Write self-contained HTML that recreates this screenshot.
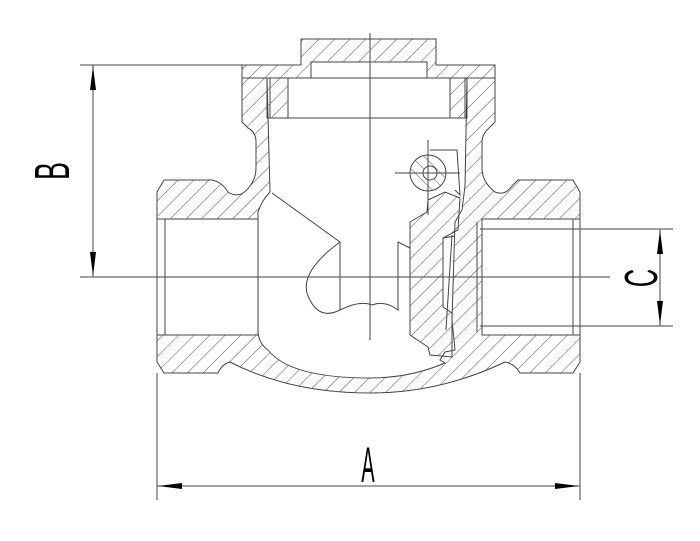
<!DOCTYPE html>
<html><head><meta charset="utf-8"><style>html,body{margin:0;padding:0;background:#fff}svg{display:block}</style></head>
<body>
<svg width="700" height="541" viewBox="0 0 700 541" xmlns="http://www.w3.org/2000/svg">
<defs>
<pattern id="h" patternUnits="userSpaceOnUse" width="11" height="11" patternTransform="rotate(45)">
<line x1="0" y1="0" x2="0" y2="11" stroke="#555" stroke-width="1"/>
</pattern>
<pattern id="h2" patternUnits="userSpaceOnUse" width="9" height="9" patternTransform="rotate(-45)">
<line x1="0" y1="0" x2="0" y2="9" stroke="#555" stroke-width="1"/>
</pattern>
</defs>
<g stroke="#444" stroke-width="1" fill="none">
<path fill="url(#h)" fill-rule="evenodd" d="
M157,192 L164,180 L212,180 Q222,182 228,192 Q240,200 250,186 Q256,178 256,168 L256,142 Q256,132 248,128 L242,122 L242,78 L495,78 L495,122 L489,128 Q482,134 482,142 L482,168 Q482,182 495,192 Q505,196 512,186 L518,180 L573,180 L580,192 L580,362 L573,373 L520,373 Q515,364 505,362 Q440,393 370,393 Q290,393 230,362 Q222,364 218,373 L164,373 L157,362 Z
M157,219 L258,219 L258,335 L157,335 Z
M482,219 L580,219 L580,335 L482,335 Z
M267,78 L467,78 L465,186 L462,210 L455,222 L452,320 L455,350 L445,352 L440,360 L445,363 Q410,378 370,378 Q290,378 268,350 Q258,343 258,330 L258,212 Q262,200 270,192 Z"/>
<path fill="url(#h)" fill-rule="evenodd" d="M242,65 L301,65 L301,39 L436,39 L436,65 L495,65 L495,78 L242,78 Z M311,62 L427,62 L427,78 L311,78 Z"/>
<rect x="267" y="78" width="21" height="40" fill="url(#h)"/>
<rect x="450" y="78" width="17" height="40" fill="url(#h)"/>
<line x1="270" y1="78" x2="270" y2="118"/><line x1="465" y1="78" x2="465" y2="118"/>
<line x1="267" y1="118" x2="467" y2="118"/>
<line x1="165" y1="219" x2="165" y2="335"/><line x1="573" y1="219" x2="573" y2="335"/>
<line x1="477" y1="222" x2="477" y2="332"/>
<path fill="url(#h)" d="M410,222 L427,212 L428,200 L445,192 L460,198 L458,230 L443,238 L443,307 L452,313 L452,357 L430,355 L428,347 L410,335 Z"/>
<circle cx="428" cy="173" r="18" fill="url(#h2)"/>
<circle cx="430" cy="173" r="7" fill="#fff"/>
<path d="M430,150 L457,150 L460,195 L455,190"/>
<line x1="443" y1="238" x2="455" y2="236"/>
<line x1="452" y1="235" x2="446" y2="330"/>
<path d="M272,193 L340,242 L340,310 Q320,320 310,300 Q295,275 340,242"/>
<path d="M340,310 Q360,300 372,305 Q385,300 398,310 L398,242 L410,248"/>
<line x1="370" y1="33" x2="370" y2="340"/>
<line x1="395" y1="173" x2="460" y2="173"/>
<line x1="428" y1="140" x2="428" y2="215"/>
<line x1="80" y1="65" x2="242" y2="65"/>
<line x1="80" y1="277" x2="610" y2="277"/>
<line x1="93" y1="65" x2="93" y2="277"/>
<line x1="480" y1="229" x2="673" y2="229"/>
<line x1="480" y1="326" x2="673" y2="326"/>
<line x1="660" y1="229" x2="660" y2="326"/>
<line x1="157" y1="373" x2="157" y2="500"/>
<line x1="580" y1="373" x2="580" y2="500"/>
<line x1="157" y1="486" x2="580" y2="486"/>
</g>
<g fill="#000">
<path d="M93,66 L90,90 L96,90 Z"/><path d="M93,276 L90,252 L96,252 Z"/>
<path d="M660,230 L657,254 L663,254 Z"/><path d="M660,325 L657,301 L663,301 Z"/>
<path d="M158,486 L182,483 L182,489 Z"/><path d="M579,486 L555,483 L555,489 Z"/>
</g>
<g font-family="Liberation Sans, sans-serif" fill="#000">
<text transform="translate(368,482) scale(0.55,1.4)" font-size="36" text-anchor="middle">A</text>
<text transform="translate(69,171) rotate(-90) scale(0.7,1.3)" font-size="38" text-anchor="middle">B</text>
<text transform="translate(657,278) rotate(-90) scale(0.7,1.3)" font-size="36" text-anchor="middle">C</text>
</g>
</svg>
</body></html>
